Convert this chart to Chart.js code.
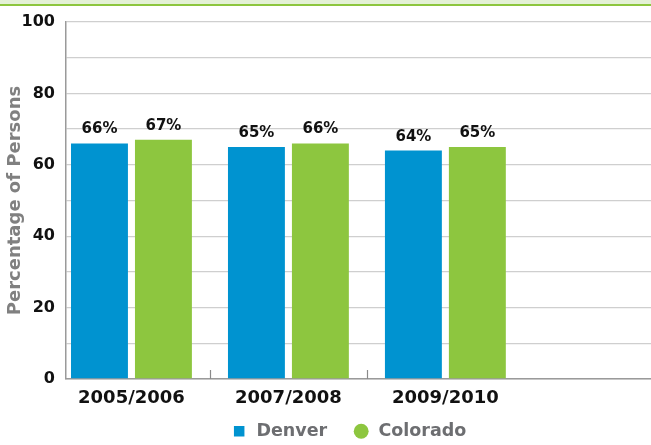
<!DOCTYPE html>
<html>
<head>
<meta charset="utf-8">
<script src="https://cdn.jsdelivr.net/npm/chart.js@4/dist/chart.umd.min.js"></script>
<style>
  html, body { margin: 0; padding: 0; background: #ffffff; overflow: hidden; }
  #wrap { position: relative; width: 651px; height: 445px; }
  #band { position: absolute; left: 0; top: 0; width: 651px; height: 4px; background: #e4f1d6; border-bottom: 2px solid #8dc63f; z-index: 2; }
  canvas { position: absolute; left: 0; top: 0; }
</style>
</head>
<body>
<div id="wrap">
  <div id="band"></div>
  <canvas id="c" width="651" height="445"></canvas>
</div>
<script>
const categories = ['2005/2006', '2007/2008', '2009/2010'];
const denverValues = [66, 65, 64];
const coloradoValues = [67, 66, 65];
const seriesNames = ['Denver', 'Colorado'];
const yTicks = [0, 20, 40, 60, 80, 100];

const BLUE = '#0093d0';
const GREEN = '#8dc63f';
const FONT = "'DejaVu Sans', sans-serif";

const toPoints = vals => vals.map((v, i) => ({ x: i, y: v }));

const valueLabels = {
  id: 'valueLabels',
  afterDatasetsDraw(chart) {
    const ctx = chart.ctx;
    ctx.save();
    ctx.font = 'bold 15px ' + FONT;
    ctx.fillStyle = '#111111';
    ctx.textAlign = 'center';
    ctx.textBaseline = 'alphabetic';
    chart.data.datasets.forEach((ds, di) => {
      const meta = chart.getDatasetMeta(di);
      meta.data.forEach((el, i) => {
        ctx.fillText(ds.data[i].y + '%', el.x, el.y - 10);
      });
    });
    ctx.restore();
  }
};

const boundaryTicks = {
  id: 'boundaryTicks',
  afterDraw(chart) {
    const xs = chart.scales.x;
    const ctx = chart.ctx;
    ctx.save();
    ctx.strokeStyle = '#8a8a8a';
    ctx.lineWidth = 1.2;
    for (let i = 0; i < categories.length - 1; i++) {
      const px = Math.round(xs.getPixelForValue(i + 0.5)) + 0.5;
      ctx.beginPath();
      ctx.moveTo(px, chart.chartArea.bottom);
      ctx.lineTo(px, chart.chartArea.bottom - 9);
      ctx.stroke();
    }
    ctx.restore();
  }
};

const legendShift = {
  id: 'legendShift',
  afterLayout(chart) {
    const lg = chart.legend;
    if (lg) {
      lg.left -= 10;
      lg.right -= 10;
      lg.top -= 12;
    }
  }
};

new Chart(document.getElementById('c'), {
  type: 'bar',
  data: {
    datasets: [
      { label: seriesNames[0], data: toPoints(denverValues), backgroundColor: BLUE, pointStyle: 'rect' },
      { label: seriesNames[1], data: toPoints(coloradoValues), backgroundColor: GREEN, pointStyle: 'circle' }
    ]
  },
  options: {
    responsive: false,
    animation: false,
    events: [],
    categoryPercentage: 0.815,
    barPercentage: 0.89,
    layout: { padding: { top: 22, right: 0, bottom: 0, left: 0 } },
    plugins: {
      tooltip: { enabled: false },
      legend: {
        position: 'bottom',
        fullSize: false,
        maxHeight: 36,
        labels: {
          usePointStyle: true,
          boxWidth: 17,
          boxHeight: 10.5,
          padding: 25.5,
          color: '#6d6e71',
          font: { family: FONT, size: 17.5, weight: 'bold' }
        }
      }
    },
    scales: {
      x: {
        type: 'linear',
        offset: false,
        min: -0.417,
        max: 3.31,
        afterFit: s => { s.height = 30; },
        grid: { display: false, drawTicks: false },
        border: { display: true, color: '#9a9a9a', width: 1.5 },
        ticks: {
          stepSize: 1,
          includeBounds: false,
          autoSkip: false,
          maxRotation: 0,
          padding: 9,
          color: '#111111',
          font: { family: FONT, size: 18, weight: 'bold' },
          callback: v => (Number.isInteger(v) && categories[v]) ? categories[v] : ''
        }
      },
      y: {
        min: 0,
        max: 100,
        afterFit: s => { s.width = 66; },
        grid: { color: '#cfcfcf', lineWidth: 1.3, drawTicks: false },
        border: { display: true, color: '#9a9a9a', width: 1.5 },
        ticks: {
          stepSize: 10,
          padding: 11,
          color: '#111111',
          font: { family: FONT, size: 16, weight: 'bold' },
          callback: v => yTicks.includes(v) ? String(v) : ''
        },
        title: {
          display: true,
          text: 'Percentage of Persons',
          color: '#808080',
          padding: { top: 5, bottom: 0 },
          font: { family: FONT, size: 18, weight: 'bold' }
        }
      }
    }
  },
  plugins: [valueLabels, boundaryTicks, legendShift]
});
</script>
</body>
</html>
